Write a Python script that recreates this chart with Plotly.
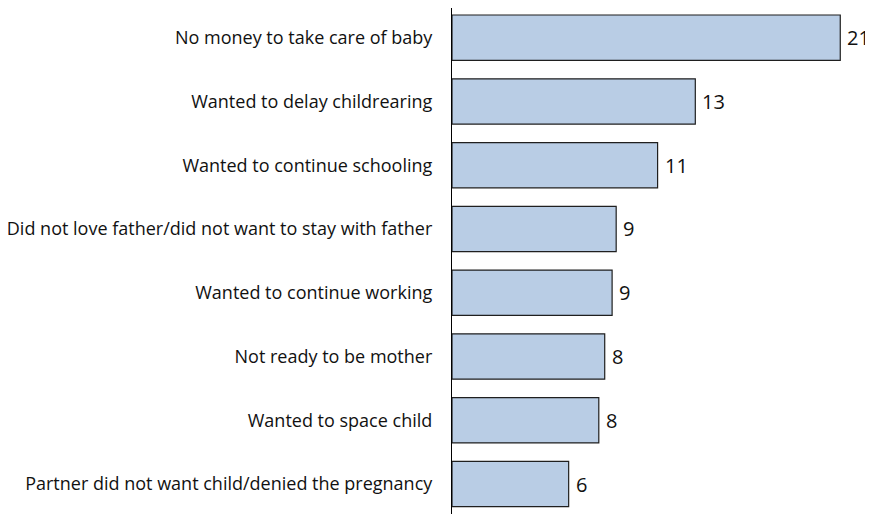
import plotly.graph_objects as go

categories = [
    "No money to take care of baby",
    "Wanted to delay childrearing",
    "Wanted to continue schooling",
    "Did not love father/did not want to stay with father",
    "Wanted to continue working",
    "Not ready to be mother",
    "Wanted to space child",
    "Partner did not want child/denied the pregnancy",
]
values = [21.0, 13.16, 11.12, 8.88, 8.66, 8.26, 7.94, 6.31]
value_labels = ["21", "13", "11", "9", "9", "8", "8", "6"]

fig = go.Figure()
fig.add_trace(go.Bar(
    x=values,
    y=categories,
    orientation="h",
    marker=dict(color="#b9cde5", line=dict(color="#1f1f1f", width=1.2)),
    hoverinfo="skip",
))

for v, c, t in zip(values, categories, value_labels):
    fig.add_annotation(
        x=v, y=c, text=t, showarrow=False, xanchor="left", yanchor="middle",
        xshift=5, font=dict(size=20, color="#111111", family="Open Sans"),
    )

# page body has an 8px default margin, so the figure is sized to fit the window
fig.update_layout(
    width=865, height=506,
    margin=dict(l=444, r=5, t=0, b=0),
    paper_bgcolor="white", plot_bgcolor="white",
    bargap=0.29,
    showlegend=False,
    font=dict(family="Open Sans", size=18, color="#111111"),
)
fig.update_xaxes(range=[0, 22.5], visible=False, showgrid=False, zeroline=False)
fig.update_yaxes(
    categoryorder="array", categoryarray=categories,
    range=[7.47, -0.465],
    showline=True, linecolor="#000000", linewidth=1.2,
    ticks="", showgrid=False, zeroline=False,
    ticklabelstandoff=15,
    tickfont=dict(family="Open Sans", size=18, color="#111111"),
)

fig.write_html("out.html")
